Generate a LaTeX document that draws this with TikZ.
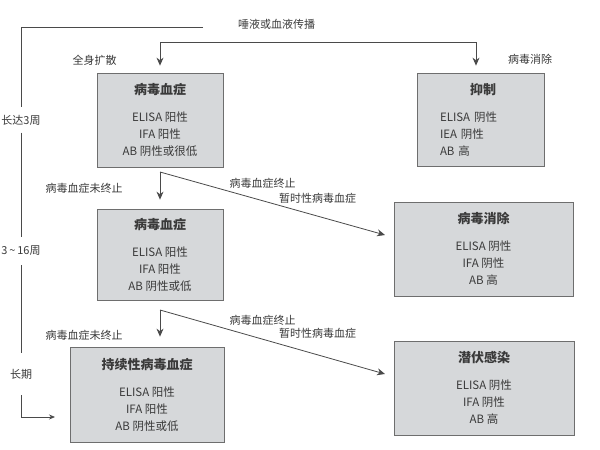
\documentclass[tikz,border=0pt]{standalone}
\usepackage{fontspec}
\setmainfont{Noto Sans CJK SC}
\usetikzlibrary{arrows.meta}
\definecolor{txt}{HTML}{3A3A3A}
\definecolor{ln}{HTML}{4A4A4A}
\definecolor{boxfill}{HTML}{D6D8DA}
\definecolor{boxline}{HTML}{6E6E6E}
\newcommand\boxtitle[1]{{\fontsize{13}{17}\selectfont\bfseries #1}}
\begin{document}
\begin{tikzpicture}[x=1pt,y=-1pt,
  box/.style={draw=boxline, fill=boxfill, line width=0.8pt, align=center, text=txt,
    font=\fontsize{11.5}{17}\selectfont, inner sep=0pt},
  lbl/.style={text=txt, font=\fontsize{11}{13}\selectfont, inner sep=1pt},
  con/.style={draw=ln, line width=0.8pt},
  arr/.style={draw=ln, line width=0.8pt, -{Stealth[length=8pt,width=7pt]}},
  arrs/.style={draw=ln, line width=0.8pt, -{Stealth[length=6pt,width=5pt]}}]
\useasboundingbox[fill=white] (0,0) rectangle (600,450);

% boxes
\node[box, minimum width=126pt, minimum height=94pt] (v1) at (160,120)
  {\boxtitle{病毒血症}\\[10pt]ELISA 阳性\\IFA 阳性\\AB 阴性或很低};
\node[box, minimum width=127pt, minimum height=93pt, text width=81pt, align=left] (yz) at (480.5,119.5)
  {\hspace*{30pt}\boxtitle{抑制}\\[10pt]ELISA 阴性\\IEA 阴性\\AB 高};
\node[box, minimum width=126pt, minimum height=91pt] (v2) at (160,254.5)
  {\boxtitle{病毒血症}\\[10pt]ELISA 阳性\\IFA 阳性\\AB 阴性或低};
\node[box, minimum width=179pt, minimum height=94pt] (xc) at (483.5,249)
  {\boxtitle{病毒消除}\\[10pt]ELISA 阴性\\IFA 阴性\\AB 高};
\node[box, minimum width=154pt, minimum height=95pt] (ps) at (147,394.5)
  {\boxtitle{持续性病毒血症}\\[10pt]ELISA 阳性\\IFA 阳性\\AB 阴性或低};
\node[box, minimum width=180pt, minimum height=94pt] (lt) at (484,388)
  {\boxtitle{潜伏感染}\\[10pt]ELISA 阴性\\IFA 阴性\\AB 高};

% labels
\node[lbl] (src) at (276.5,24) {唾液或血液传播};
\node[lbl] (qs) at (94.5,60) {全身扩散};
\node[lbl] (bx) at (530,59) {病毒消除};
\node[lbl] (n1) at (84,188) {病毒血症未终止};
\node[lbl] (n2) at (84,335) {病毒血症未终止};
\node[lbl] (z1) at (262.5,183) {病毒血症终止};
\node[lbl] (t1) at (317.5,198) {暂时性病毒血症};
\node[lbl] (z2) at (262.5,320) {病毒血症终止};
\node[lbl] (t2) at (317.5,333) {暂时性病毒血症};
\node[lbl, minimum height=25pt] (l1) at (21,120) {长达3周};
\node[lbl, minimum height=28pt] (l2) at (21,251) {3\,\textasciitilde\,16周};
\node[lbl, minimum height=42pt] (l3) at (21,374) {长期};

% coordinates
\coordinate (c0) at (21,27);
\coordinate (c1) at (203,27);
\coordinate (j) at (160,42);
\coordinate (k) at (476,42);
\coordinate (b1) at (160,172);
\coordinate (e1) at (385,235);
\coordinate (b2) at (160,310);
\coordinate (e2) at (385,374);
\coordinate (ce) at (55,417);

% connectors
\draw[con] (c1) -- (c0) -- (l1);
\draw[con] (l1) -- (l2);
\draw[con] (l2) -- (l3);
\draw[arrs] (l3) |- (ce);

\draw[con] (j) -- (k);
\draw[arr, shorten >=7pt] (j) -- (v1);
\draw[arr, shorten >=7pt] (k) -- (k |- yz.north);

\draw[arr, shorten >=9pt] (b1) -- (v2);
\draw[arr] (b1) -- (e1);
\draw[arr, shorten >=10pt] (b2) -- (b2 |- ps.north);
\draw[arr] (b2) -- (e2);
\end{tikzpicture}
\end{document}
